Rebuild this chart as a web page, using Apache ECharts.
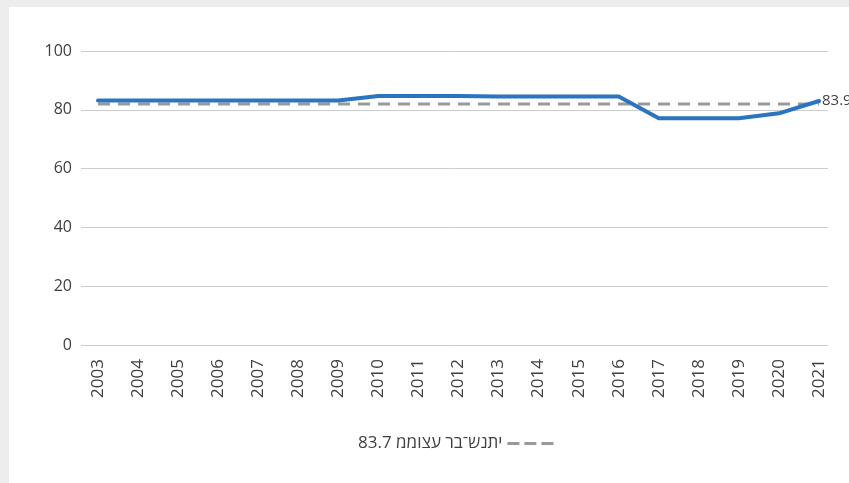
<!DOCTYPE html>
<html>
<head>
<meta charset="utf-8">
<script src="https://cdn.jsdelivr.net/npm/echarts@6/dist/echarts.min.js"></script>
<style>
  html, body { margin: 0; padding: 0; background: #ededed; }
  #chart { width: 849px; height: 483px; }
</style>
</head>
<body>
<div id="chart"></div>
<script>
const years = ['2003','2004','2005','2006','2007','2008','2009','2010','2011','2012','2013','2014','2015','2016','2017','2018','2019','2020','2021'];
const values = [83.2, 83.2, 83.2, 83.2, 83.2, 83.2, 83.2, 84.7, 84.7, 84.7, 84.5, 84.5, 84.5, 84.5, 77.1, 77.1, 77.1, 78.8, 83.0];
const averageValues = [82.0, 82.0, 82.0, 82.0, 82.0, 82.0, 82.0, 82.0, 82.0, 82.0, 82.0, 82.0, 82.0, 82.0, 82.0, 82.0, 82.0, 82.0, 82.0];
// glyphs are laid out left to right in the reference, so force LTR order
const averageName = '\u202D83.7 ממוצע רב־שנתי\u202C';
const lastLabel = '83.9';
const yTicks = [0, 20, 40, 60, 80, 100];

const FONT = '"Open Sans", "Noto Sans", sans-serif';
const chart = echarts.init(document.getElementById('chart'), null, { renderer: 'canvas' });
chart.setOption({
  backgroundColor: '#ededed',
  animation: false,
  textStyle: { fontFamily: FONT },
  graphic: [{
    type: 'rect', left: 9, top: 7, z: -10,
    shape: { width: 840, height: 476 },
    style: { fill: '#ffffff' }
  }],
  legend: {
    data: [averageName],
    left: 353, top: 430,
    align: 'right',
    icon: 'path://M0,0h12v3h-12zM17,0h12v3h-12zM34,0h12v3h-12z',
    itemWidth: 46, itemHeight: 3,
    itemStyle: { color: '#999999' },
    textStyle: { fontFamily: FONT, fontSize: 17, color: '#404040' }
  },
  grid: [
    { left: 98, right: 30, top: 51, bottom: 138 },
    { left: 81, right: 21, top: 51, bottom: 138 }
  ],
  xAxis: [
    {
      type: 'category', gridIndex: 0, data: years, boundaryGap: false,
      axisLine: { show: false }, axisTick: { show: false },
      axisLabel: { rotate: 90, margin: 14, interval: 0, color: '#404040', fontSize: 17, fontFamily: FONT },
      splitLine: { show: false }
    },
    { type: 'value', gridIndex: 1, show: false, min: 0, max: 1 }
  ],
  yAxis: [
    { type: 'value', gridIndex: 0, min: yTicks[0], max: yTicks[yTicks.length - 1], show: false },
    {
      type: 'value', gridIndex: 1, min: yTicks[0], max: yTicks[yTicks.length - 1], interval: 20,
      axisLine: { show: false }, axisTick: { show: false },
      axisLabel: { margin: 9, color: '#404040', fontSize: 16, fontFamily: FONT },
      splitLine: { lineStyle: { color: '#cccccc', width: 1 } }
    }
  ],
  series: [
    {
      name: averageName, type: 'line', xAxisIndex: 0, yAxisIndex: 0,
      data: averageValues, symbol: 'none', z: 2,
      lineStyle: { color: '#999999', width: 3, type: [12, 8] },
      itemStyle: { color: '#999999' }
    },
    {
      name: 'value', type: 'line', xAxisIndex: 0, yAxisIndex: 0,
      data: values, symbol: 'none', z: 3,
      lineStyle: { color: '#2a74c0', width: 4, cap: 'round', join: 'round' },
      itemStyle: { color: '#2a74c0' },
      endLabel: {
        show: true, formatter: () => lastLabel, distance: 3,
        color: '#404040', fontSize: 15, fontFamily: FONT
      }
    }
  ]
});
</script>
</body>
</html>
